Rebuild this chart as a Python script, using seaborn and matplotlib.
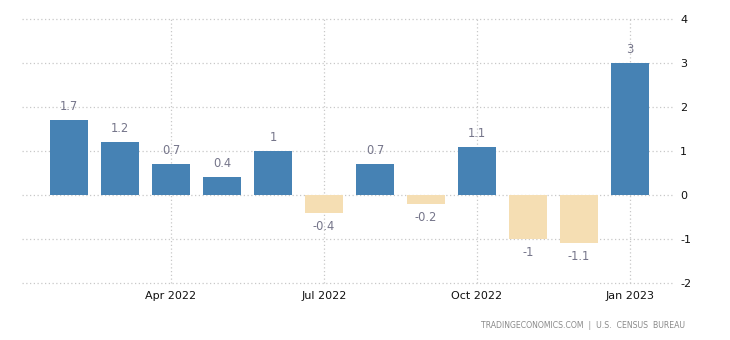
import matplotlib
matplotlib.use("Agg")
import matplotlib.pyplot as plt
import seaborn as sns
import pandas as pd

months = ["Feb 2022", "Mar 2022", "Apr 2022", "May 2022", "Jun 2022", "Jul 2022",
          "Aug 2022", "Sep 2022", "Oct 2022", "Nov 2022", "Dec 2022", "Jan 2023"]
values = [1.7, 1.2, 0.7, 0.4, 1, -0.4, 0.7, -0.2, 1.1, -1, -1.1, 3]
value_labels = ["1.7", "1.2", "0.7", "0.4", "1", "-0.4", "0.7", "-0.2", "1.1", "-1", "-1.1", "3"]
tick_labels = ["Apr 2022", "Jul 2022", "Oct 2022", "Jan 2023"]
y_ticks = [-2, -1, 0, 1, 2, 3, 4]

df = pd.DataFrame({"month": months, "value": values})
df["sign"] = ["pos" if v >= 0 else "neg" for v in values]

sns.set_style("white")
fig = plt.figure(figsize=(7.3, 3.4), dpi=100)
ax = fig.add_axes([0.030, 0.1676, 0.8905, 0.7765])

sns.barplot(data=df, x="month", y="value", hue="sign",
            palette={"pos": "#4682B4", "neg": "#F5DEB3"},
            dodge=False, width=0.74, legend=False, saturation=1,
            linewidth=0, ax=ax)

ax.set_xlim(-0.92, 11.82)
ax.set_ylim(-2, 4)
ax.set_yticks(y_ticks)
ax.set_yticklabels([str(t) for t in y_ticks])
tick_pos = [months.index(m) for m in tick_labels]
ax.set_xticks(tick_pos)
ax.set_xticklabels(tick_labels)
ax.yaxis.tick_right()
ax.tick_params(axis="both", length=0, labelsize=8, colors="#111111")
ax.tick_params(axis="y", pad=6)
ax.tick_params(axis="x", pad=6)
ax.set_xlabel("")
ax.set_ylabel("")
for s in ax.spines.values():
    s.set_visible(False)
ax.grid(True, axis="both", linestyle=(0, (1, 2)), color="#c8c8c8", linewidth=0.9)
for gl in ax.get_xgridlines() + ax.get_ygridlines():
    gl.set_clip_on(False)
ax.set_axisbelow(True)

for i, (v, lab) in enumerate(zip(values, value_labels)):
    if v >= 0:
        ax.annotate(lab, (i, v), xytext=(0, 5), textcoords="offset points",
                    ha="center", va="bottom", fontsize=8.3, color="#75758a")
    else:
        ax.annotate(lab, (i, v), xytext=(0, -5), textcoords="offset points",
                    ha="center", va="top", fontsize=8.3, color="#75758a")

fig.text(685 / 730, 1 - 325 / 340, "TRADINGECONOMICS.COM  |  U.S.  CENSUS  BUREAU",
         ha="right", va="center", fontsize=5.6, color="#8a8a8a")

fig.savefig("out.png", dpi=100)
